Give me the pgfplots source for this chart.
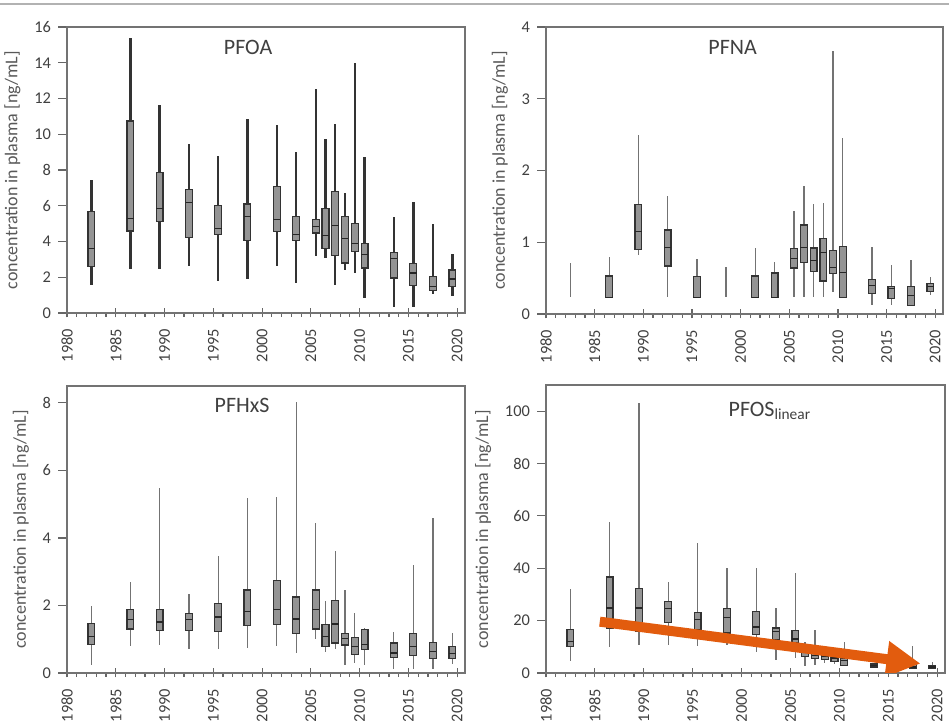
\documentclass[border=0pt]{standalone}
\usepackage{fontspec}
\setmainfont{Carlito}
\usepackage{pgfplots}
\pgfplotsset{compat=1.18}
\usepgfplotslibrary{statistics}
\usetikzlibrary{arrows.meta}

\definecolor{arroworange}{RGB}{226,92,14}

% x is years after 1980
% one box: position, lower whisker, lower quartile, median, upper quartile, upper whisker
\newcommand{\bx}[6]{\addplot[boxplot prepared={draw position=#1, lower whisker=#2,
  lower quartile=#3, median=#4, upper quartile=#5, upper whisker=#6}] coordinates {};}
% whisker only (no box)
\newcommand{\wh}[3]{\addplot[draw=black!55, line width=0.7pt] coordinates {(#1,#2) (#1,#3)};}

\tikzset{ptitle/.style={font=\fontsize{11}{12}\selectfont, text=black!75}}
\pgfplotsset{
  panel/.style={
    scale only axis, anchor=south west,
    xmin=0, xmax=40.8, ymin=0,
    xtick={0,5,...,40}, xticklabels={1980,1985,1990,1995,2000,2005,2010,2015,2020},
    minor x tick num=4,
    xtick pos=bottom, ytick pos=left,
    tick align=outside,
    major tick length=4.5pt, minor tick length=2pt,
    major x tick style={yshift=2.25pt},
    tick style={draw=black!60, line width=0.6pt},
    axis line style={draw=black!55, line width=0.7pt},
    /pgf/number format/assume math mode=true,
    tick label style={font=\fontsize{8.2}{10}\selectfont, text=black!75},
    xticklabel style={rotate=90, anchor=east},
    ylabel={concentration in plasma [ng/mL]},
    ylabel style={font=\fontsize{9}{10}\selectfont, text=black!65},
    boxplot/draw direction=y,
    boxplot/box extend=0.7,
    boxplot/whisker extend=0,
    boxplot/every box/.style={fill=black!42, draw=black!80, line width=0.6pt},
    boxplot/every median/.style={draw=black!85, line width=0.6pt},
    boxplot/every whisker/.style={draw=black!55, line width=0.7pt},
  },
}

\begin{document}
\begin{tikzpicture}
\useasboundingbox (0,0) rectangle (474.5pt,360.5pt);
\draw[black!30, line width=0.8pt] (0,358.5pt) -- (474.5pt,358.5pt);

% PFOA
\begin{axis}[panel, at={(33.5pt,204pt)}, width=199pt, height=143pt,
  ymax=16, ytick={0,2,...,16},
  boxplot/every whisker/.style={draw=black!80, line width=1.2pt}]
\bx{2.5}{1.59}{2.61}{3.62}{5.66}{7.43}
\bx{6.5}{2.46}{4.59}{5.27}{10.74}{15.4}
\bx{9.5}{2.46}{5.12}{5.84}{7.86}{11.61}
\bx{12.5}{2.61}{4.24}{6.18}{6.93}{9.43}
\bx{15.5}{1.81}{4.39}{4.72}{6.01}{8.78}
\bx{18.5}{1.92}{4.05}{5.41}{6.10}{10.87}
\bx{21.5}{2.61}{4.54}{5.21}{7.06}{10.49}
\bx{23.5}{1.68}{4.05}{4.39}{5.41}{9.02}
\bx{25.5}{3.17}{4.48}{4.82}{5.23}{12.55}
\bx{26.5}{3.08}{3.62}{4.33}{5.84}{9.71}
\bx{27.5}{1.59}{3.21}{4.89}{6.78}{10.6}
\bx{28.5}{2.39}{2.80}{4.16}{5.41}{6.72}
\bx{29.5}{2.24}{3.42}{3.88}{5.00}{14.0}
\bx{30.5}{0.84}{2.52}{3.25}{3.90}{8.72}
\bx{33.5}{0.34}{1.96}{3.04}{3.40}{5.36}
\bx{35.5}{0.34}{1.53}{2.24}{2.78}{6.2}
\bx{37.5}{1.08}{1.27}{1.49}{2.05}{4.97}
\bx{39.5}{0.97}{1.49}{1.90}{2.41}{3.30}
\node[ptitle] at (rel axis cs:0.455,0.93) {PFOA};
\end{axis}

% PFNA
\begin{axis}[panel, at={(273pt,203.5pt)}, width=198.5pt, height=143.5pt,
  ymax=4, ytick={0,1,...,4}]
\wh{2.5}{0.24}{0.71}
\bx{6.5}{0.233}{0.233}{0.233}{0.53}{0.79}
\bx{9.5}{0.82}{0.90}{1.15}{1.53}{2.50}
\bx{12.5}{0.24}{0.67}{0.93}{1.17}{1.65}
\bx{15.5}{0.233}{0.233}{0.233}{0.52}{0.76}
\wh{18.5}{0.24}{0.65}
\bx{21.5}{0.233}{0.233}{0.233}{0.53}{0.92}
\bx{23.5}{0.233}{0.233}{0.233}{0.57}{0.72}
\bx{25.5}{0.24}{0.64}{0.77}{0.91}{1.43}
\bx{26.5}{0.24}{0.72}{0.93}{1.24}{1.78}
\bx{27.5}{0.24}{0.59}{0.74}{0.92}{1.53}
\bx{28.5}{0.24}{0.46}{0.86}{1.05}{1.55}
\bx{29.5}{0.31}{0.56}{0.65}{0.88}{3.66}
\bx{30.5}{0.233}{0.233}{0.58}{0.94}{2.45}
\bx{33.5}{0.12}{0.28}{0.40}{0.48}{0.93}
\bx{35.5}{0.13}{0.22}{0.35}{0.38}{0.68}
\bx{37.5}{0.12}{0.12}{0.26}{0.38}{0.75}
\bx{39.5}{0.26}{0.31}{0.38}{0.43}{0.51}
\node[ptitle] at (rel axis cs:0.47,0.93) {PFNA};
\end{axis}

% PFHxS
\begin{axis}[panel, at={(33.5pt,24pt)}, width=199pt, height=143.5pt,
  ymax=8.5, ytick={0,2,...,8}]
\bx{2.5}{0.25}{0.84}{1.09}{1.47}{1.99}
\bx{6.5}{0.79}{1.30}{1.59}{1.87}{2.70}
\bx{9.5}{0.82}{1.26}{1.51}{1.87}{5.47}
\bx{12.5}{0.71}{1.26}{1.58}{1.75}{2.35}
\bx{15.5}{0.71}{1.23}{1.66}{2.06}{3.47}
\bx{18.5}{0.74}{1.40}{1.83}{2.46}{5.17}
\bx{21.5}{0.79}{1.43}{1.87}{2.73}{5.20}
\bx{23.5}{0.59}{1.18}{1.60}{2.25}{8.03}
\bx{25.5}{1.00}{1.30}{1.89}{2.46}{4.45}
\bx{26.5}{0.61}{0.79}{1.08}{1.43}{2.12}
\bx{27.5}{0.71}{0.89}{1.45}{2.14}{3.62}
\bx{28.5}{0.25}{0.83}{1.02}{1.18}{2.46}
\bx{29.5}{0.30}{0.54}{0.79}{1.06}{1.77}
\bx{30.5}{0.25}{0.69}{0.84}{1.28}{1.33}
\bx{33.5}{0.13}{0.46}{0.59}{0.89}{1.21}
\bx{35.5}{0.13}{0.51}{0.79}{1.16}{3.20}
\bx{37.5}{0.13}{0.44}{0.64}{0.91}{4.60}
\bx{39.5}{0.27}{0.44}{0.57}{0.79}{1.18}
\node[ptitle] at (rel axis cs:0.44,0.933) {PFHxS};
\end{axis}

% PFOS linear
\begin{axis}[panel, at={(273pt,24pt)}, width=199.5pt, height=144pt,
  ymax=110, ytick={0,20,...,100}]
\bx{2.5}{4.7}{10.2}{12.1}{16.6}{32.2}
\bx{6.5}{9.8}{17.0}{24.8}{36.7}{57.5}
\bx{9.5}{10.5}{16.0}{24.8}{32.2}{103.2}
\bx{12.5}{10.5}{19.2}{24.5}{27.2}{34.9}
\bx{15.5}{10.2}{16.5}{20.4}{23.2}{49.8}
\bx{18.5}{10.5}{15.3}{21.1}{24.6}{40.2}
\bx{21.5}{8.0}{14.7}{17.6}{23.6}{40.2}
\bx{23.5}{5.1}{12.8}{15.7}{17.2}{24.9}
\bx{25.5}{5.7}{11.5}{13.0}{16.3}{38.3}
\bx{26.5}{2.6}{6.4}{7.7}{9.2}{11.9}
\bx{27.5}{3.2}{5.4}{6.6}{8.3}{16.3}
\bx{28.5}{3.8}{5.1}{6.4}{7.7}{10.2}
\bx{29.5}{3.4}{4.5}{5.7}{6.8}{9.6}
\bx{30.5}{2.6}{2.9}{4.7}{5.7}{11.7}
\bx{33.5}{1.8}{2.3}{2.8}{3.4}{3.8}
\bx{35.5}{1.3}{2.2}{2.7}{3.5}{8.0}
\bx{37.5}{1.5}{1.8}{2.3}{3.2}{10.2}
\bx{39.5}{1.5}{1.8}{2.3}{2.8}{4.1}
\node[ptitle, anchor=west] at (rel axis cs:0.44,0.91) {PFOS\textsubscript{linear}};
\draw[arroworange, line width=5pt, -{Triangle[length=17pt, width=17pt]}]
  (axis cs:5.5,19.6) -- (axis cs:38.3,3.6);
\end{axis}
\end{tikzpicture}
\end{document}
